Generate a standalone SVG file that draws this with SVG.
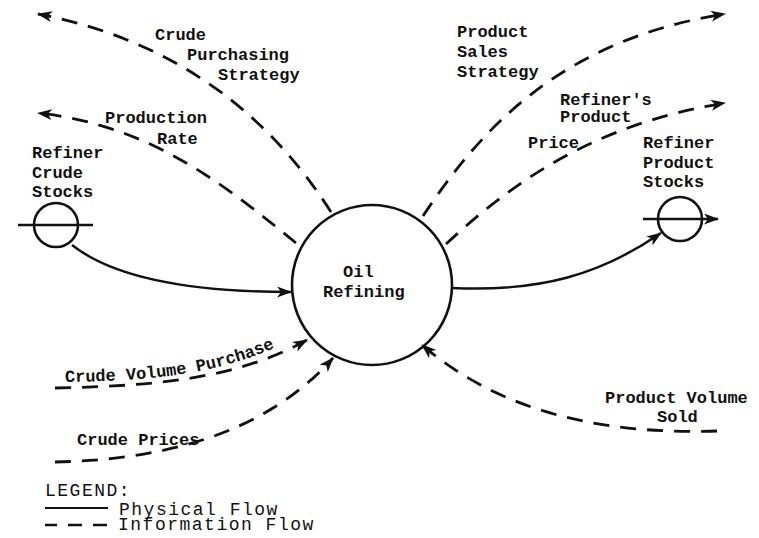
<svg xmlns="http://www.w3.org/2000/svg" width="759" height="538" viewBox="0 0 759 538">
<defs>
<style>
.lbl{font-family:"Liberation Mono","DejaVu Sans Mono",monospace;font-weight:bold;font-size:17px;fill:#111}
.leg{font-family:"Liberation Mono","DejaVu Sans Mono",monospace;font-size:18px;letter-spacing:1.5px;fill:#111}
.node{fill:none;stroke:#111;stroke-width:2.6}
.phys{fill:none;stroke:#111;stroke-width:2.4}
.info{fill:none;stroke:#111;stroke-width:2.8;stroke-dasharray:16 11}
</style>
<marker id="ah" viewBox="0 0 15 11" refX="14" refY="5.5" markerWidth="15" markerHeight="11" markerUnits="userSpaceOnUse" orient="auto">
<path d="M0,0 L15,5.5 L0,11 L4,5.5 z" fill="#111"/>
</marker>
</defs>
<rect width="759" height="538" fill="#fff"/>

<g id="oil-refining">
<circle class="node" cx="372" cy="285" r="80"/>
<text class="lbl" x="343" y="277">Oil</text>
<text class="lbl" x="323" y="297">Refining</text>
</g>

<g id="refiner-crude-stocks">
<circle class="node" cx="56" cy="225" r="22"/>
<line x1="18" y1="225" x2="93" y2="225" stroke="#111" stroke-width="2.4"/>
<text class="lbl" x="32" y="158">Refiner</text>
<text class="lbl" x="32" y="178">Crude</text>
<text class="lbl" x="32" y="197">Stocks</text>
</g>

<g id="refiner-product-stocks">
<circle class="node" cx="680" cy="219" r="22"/>
<text class="lbl" x="643" y="148">Refiner</text>
<text class="lbl" x="643" y="168">Product</text>
<text class="lbl" x="643" y="187">Stocks</text>
</g>

<g id="connectors">
<line x1="643" y1="219" x2="718" y2="219" stroke="#111" stroke-width="2.4" marker-end="url(#ah)"/>
<path class="phys" d="M72,245 C110,275 180,292 291,292" marker-end="url(#ah)"/>
<path class="phys" d="M452,288 C540,292 600,275 661,233" marker-end="url(#ah)"/>
<path class="info" d="M331,212 C285,140 200,45 38,14" marker-end="url(#ah)"/>
<path class="info" d="M296,243 C225,185 150,125 38,113" marker-end="url(#ah)"/>
<path class="info" d="M423,216 C480,130 560,40 725,14" marker-end="url(#ah)"/>
<path class="info" d="M446,244 C510,185 590,125 725,103" marker-end="url(#ah)"/>
<path class="info" d="M55,388 C150,386 235,380 307,340" marker-end="url(#ah)"/>
<path class="info" d="M55,462 C150,460 260,440 333,358" marker-end="url(#ah)"/>
<path class="info" d="M717,431 C620,434 510,420 422,345" marker-end="url(#ah)"/>
</g>

<g id="labels">
<text class="lbl" x="155" y="40">Crude</text>
<text class="lbl" x="187" y="60">Purchasing</text>
<text class="lbl" x="218" y="80">Strategy</text>
<text class="lbl" x="105" y="123">Production</text>
<text class="lbl" x="157" y="144">Rate</text>
<text class="lbl" x="457" y="37">Product</text>
<text class="lbl" x="457" y="57">Sales</text>
<text class="lbl" x="457" y="77">Strategy</text>
<text class="lbl" x="560" y="105">Refiner's</text>
<text class="lbl" x="560" y="122">Product</text>
<text class="lbl" x="528" y="148">Price</text>
<path id="cvp" d="M65,382 C150,381 230,375 302,334" fill="none"/>
<text class="lbl"><textPath href="#cvp">Crude Volume Purchase</textPath></text>
<text class="lbl" x="77" y="445">Crude Prices</text>
<text class="lbl" x="605" y="403">Product Volume</text>
<text class="lbl" x="657" y="422">Sold</text>
</g>

<g id="legend">
<text class="leg" x="45" y="496">LEGEND:</text>
<line x1="45" y1="508" x2="108" y2="508" stroke="#111" stroke-width="1.8"/>
<text class="leg" x="119" y="515">Physical Flow</text>
<path d="M45,525 H57 M68,525 H82 M93,525 H107" stroke="#111" stroke-width="2.4" fill="none"/>
<text class="leg" x="118" y="530">Information Flow</text>
</g>
</svg>
